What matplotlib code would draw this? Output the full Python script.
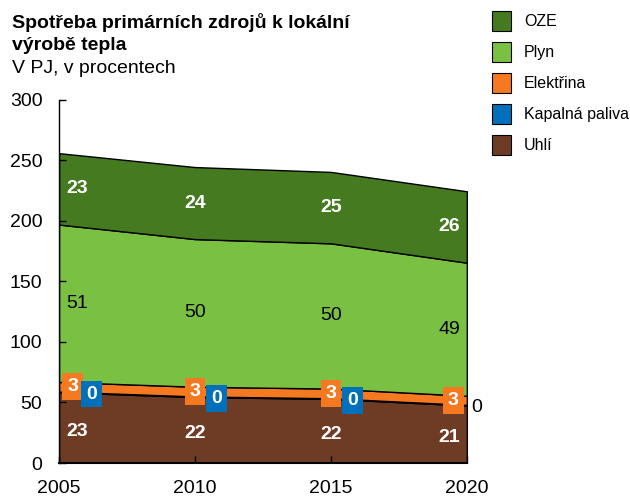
import numpy as np
import matplotlib.pyplot as plt
from matplotlib.patches import Rectangle

plt.rcParams['font.family'] = ['Liberation Sans', 'DejaVu Sans']

years = [2005, 2010, 2015, 2020]
# values in PJ, bottom to top
uhli = [58.5, 54.5, 53.0, 47.5]
kapalna = [0.5, 0.5, 0.5, 0.5]
elektrina = [8.0, 8.0, 8.0, 7.5]
plyn = [130.0, 122.0, 120.0, 110.0]
oze = [59.0, 59.5, 59.0, 59.0]

# percentage labels
pct_uhli = [23, 22, 22, 21]
pct_kapalna = [0, 0, 0, 0]
pct_elektrina = [3, 3, 3, 3]
pct_plyn = [51, 50, 50, 49]
pct_oze = [23, 24, 25, 26]

names = ['Uhlí', 'Kapalná paliva', 'Elektřina', 'Plyn', 'OZE']
colors = ['#6E3C24', '#0070BA', '#F47920', '#7AC143', '#457A20']

fig = plt.figure(figsize=(6.3, 4.97), dpi=100)
ax = fig.add_axes([0.0937, 0.0684, 0.6473, 0.7306])

layers = [uhli, kapalna, elektrina, plyn, oze]
ax.stackplot(years, layers, colors=colors, edgecolor='black', linewidth=1)

ax.set_xlim(2005, 2020)
ax.set_ylim(0, 300)
ax.set_xticks(years)
ax.set_yticks(range(0, 301, 50))
ax.tick_params(axis='both', direction='in', length=5, width=1, labelsize=14)
ax.tick_params(axis='y', pad=12)
ax.tick_params(axis='x', pad=12)
for s in ['top', 'right']:
    ax.spines[s].set_visible(False)
ax.spines['left'].set_linewidth(1)
ax.spines['bottom'].set_linewidth(1.5)

cum = np.cumsum(np.array(layers), axis=0)
xlab = [2005.66, 2010, 2015, 2019.35]
fs = 14

for i in range(4):
    mid_u = cum[0][i] / 2 * 0.9
    ax.text(xlab[i], mid_u, str(pct_uhli[i]), color='white', fontweight='bold',
            fontsize=fs, ha='center', va='center')
    mid_p = (cum[2][i] + cum[3][i]) / 2
    ax.text(xlab[i], mid_p, str(pct_plyn[i]), color='black',
            fontsize=fs, ha='center', va='center')
    mid_o = (cum[3][i] + cum[4][i]) / 2
    ax.text(xlab[i], mid_o, str(pct_oze[i]), color='white', fontweight='bold',
            fontsize=fs, ha='center', va='center')

# Elektrina boxes
xel = [2005.5, 2010, 2015, 2019.5]
for i in range(4):
    mid_e = (cum[1][i] + cum[2][i]) / 2
    ax.text(xel[i], mid_e, str(pct_elektrina[i]), color='white', fontweight='bold',
            fontsize=fs, ha='center', va='center',
            bbox=dict(boxstyle='square,pad=0.25', fc=colors[2], ec='none'))

# Kapalna paliva boxes
xkp = [2006.2, 2010.8, 2015.8]
for i in range(3):
    y = cum[1][i] - 2
    ax.text(xkp[i], y, str(pct_kapalna[i]), color='white', fontweight='bold',
            fontsize=fs, ha='center', va='center',
            bbox=dict(boxstyle='square,pad=0.25', fc=colors[1], ec='none'))
ax.text(2020.35, cum[1][3] - 2, str(pct_kapalna[3]), color='black',
        fontsize=fs, ha='center', va='center', clip_on=False)

# title
fig.text(0.019, 1 - 28 / 497, 'Spotřeba primárních zdrojů k lokální',
         fontsize=14, fontweight='bold', ha='left', va='baseline')
fig.text(0.019, 1 - 50 / 497, 'výrobě tepla',
         fontsize=14, fontweight='bold', ha='left', va='baseline')
fig.text(0.019, 1 - 73 / 497, 'V PJ, v procentech', fontsize=14,
         ha='left', va='baseline')

# legend
leg_names = names[::-1]
leg_colors = colors[::-1]
for k, (n, c) in enumerate(zip(leg_names, leg_colors)):
    yc = 1 - (21 + 31 * k) / 497
    fig.patches.append(Rectangle((492 / 630, yc - 10 / 497), 19 / 630, 20 / 497,
                                 transform=fig.transFigure, fc=c, ec='black', lw=0.8))
    fig.text(524 / 630, yc, n, fontsize=11.5, ha='left', va='center')

fig.savefig('out.png', dpi=100)
